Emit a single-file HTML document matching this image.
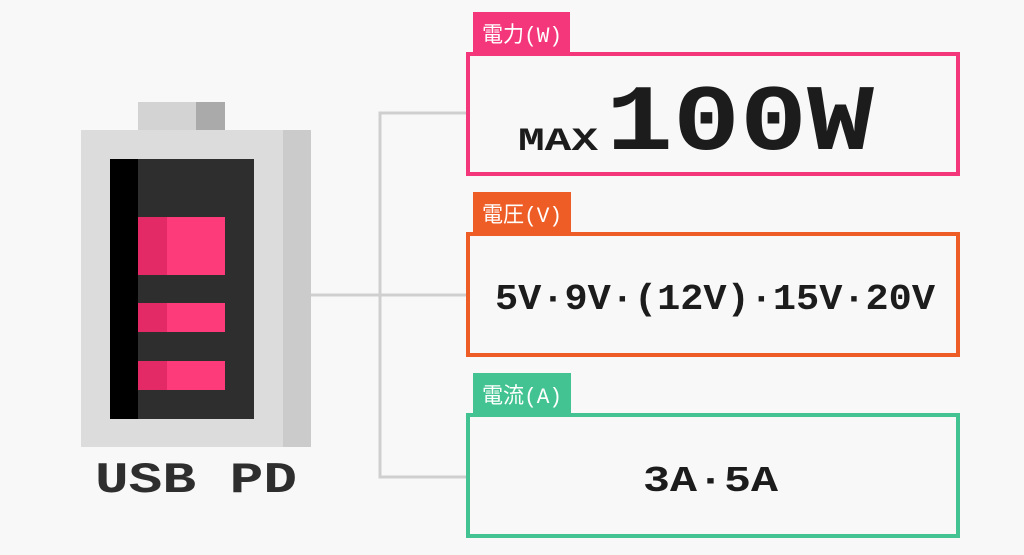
<!DOCTYPE html>
<html><head><meta charset="utf-8"><style>
html,body{margin:0;padding:0;background:#f8f8f8;}
svg{display:block}
text{font-family:"Liberation Mono","Noto Sans CJK JP",monospace;font-weight:bold;}
</style></head><body>
<svg width="1024" height="555" viewBox="0 0 1024 555" xmlns="http://www.w3.org/2000/svg">
<rect width="1024" height="555" fill="#f8f8f8"/>
<g stroke="#cfcfcf" stroke-width="3" fill="none">
<line x1="311" y1="295" x2="466" y2="295"/>
<polyline points="466,113 380,113 380,477 466,477"/>
</g>
<rect x="138" y="102" width="58" height="28" fill="#d3d3d3"/>
<rect x="196" y="102" width="29" height="28" fill="#aaaaaa"/>
<rect x="81" y="130" width="230" height="317" fill="#dcdcdc"/>
<rect x="283" y="130" width="28" height="317" fill="#cbcbcb"/>
<rect x="110" y="159" width="144" height="260" fill="#2e2e2e"/>
<rect x="110" y="159" width="28" height="260" fill="#000"/>
<g>
<rect x="138" y="217" width="87" height="58" fill="#fd3a7a"/>
<rect x="138" y="217" width="29" height="58" fill="#e42a66"/>
<rect x="138" y="303" width="87" height="29" fill="#fd3a7a"/>
<rect x="138" y="303" width="29" height="29" fill="#e42a66"/>
<rect x="138" y="361" width="87" height="29" fill="#fd3a7a"/>
<rect x="138" y="361" width="29" height="29" fill="#e42a66"/>
</g>
<text x="95" y="492" font-size="44" fill="#2e2e2e" textLength="202" lengthAdjust="spacingAndGlyphs">USB PD</text>
<rect x="473" y="12" width="97" height="41" fill="#f4377a"/>
<text x="482" y="42" font-size="22" fill="#fff" textLength="80" lengthAdjust="spacingAndGlyphs" style="font-weight:normal">電力(W)</text>
<rect x="468" y="54" width="490" height="120" fill="#f8f8f8" stroke="#f4377a" stroke-width="4"/>
<text x="518" y="150" font-size="32" fill="#1c1c1c" textLength="80" lengthAdjust="spacingAndGlyphs">MAX</text>
<text x="606" y="149" font-size="94" fill="#1c1c1c" textLength="268" lengthAdjust="spacingAndGlyphs">100W</text>
<rect x="473" y="192" width="98" height="41" fill="#ee5d26"/>
<text x="482" y="222" font-size="22" fill="#fff" textLength="80" lengthAdjust="spacingAndGlyphs" style="font-weight:normal">電圧(V)</text>
<rect x="468" y="234" width="490" height="121" fill="#f8f8f8" stroke="#ee5d26" stroke-width="4"/>
<text x="495" y="309" font-size="36" fill="#1c1c1c" textLength="440" lengthAdjust="spacingAndGlyphs">5V·9V·(12V)·15V·20V</text>
<rect x="473" y="373" width="98" height="41" fill="#43c392"/>
<text x="482" y="403" font-size="22" fill="#fff" textLength="80" lengthAdjust="spacingAndGlyphs" style="font-weight:normal">電流(A)</text>
<rect x="468" y="415" width="490" height="121" fill="#f8f8f8" stroke="#43c392" stroke-width="4"/>
<text x="643" y="491" font-size="36" fill="#1c1c1c" textLength="135" lengthAdjust="spacingAndGlyphs">3A·5A</text>
</svg>
</body></html>
